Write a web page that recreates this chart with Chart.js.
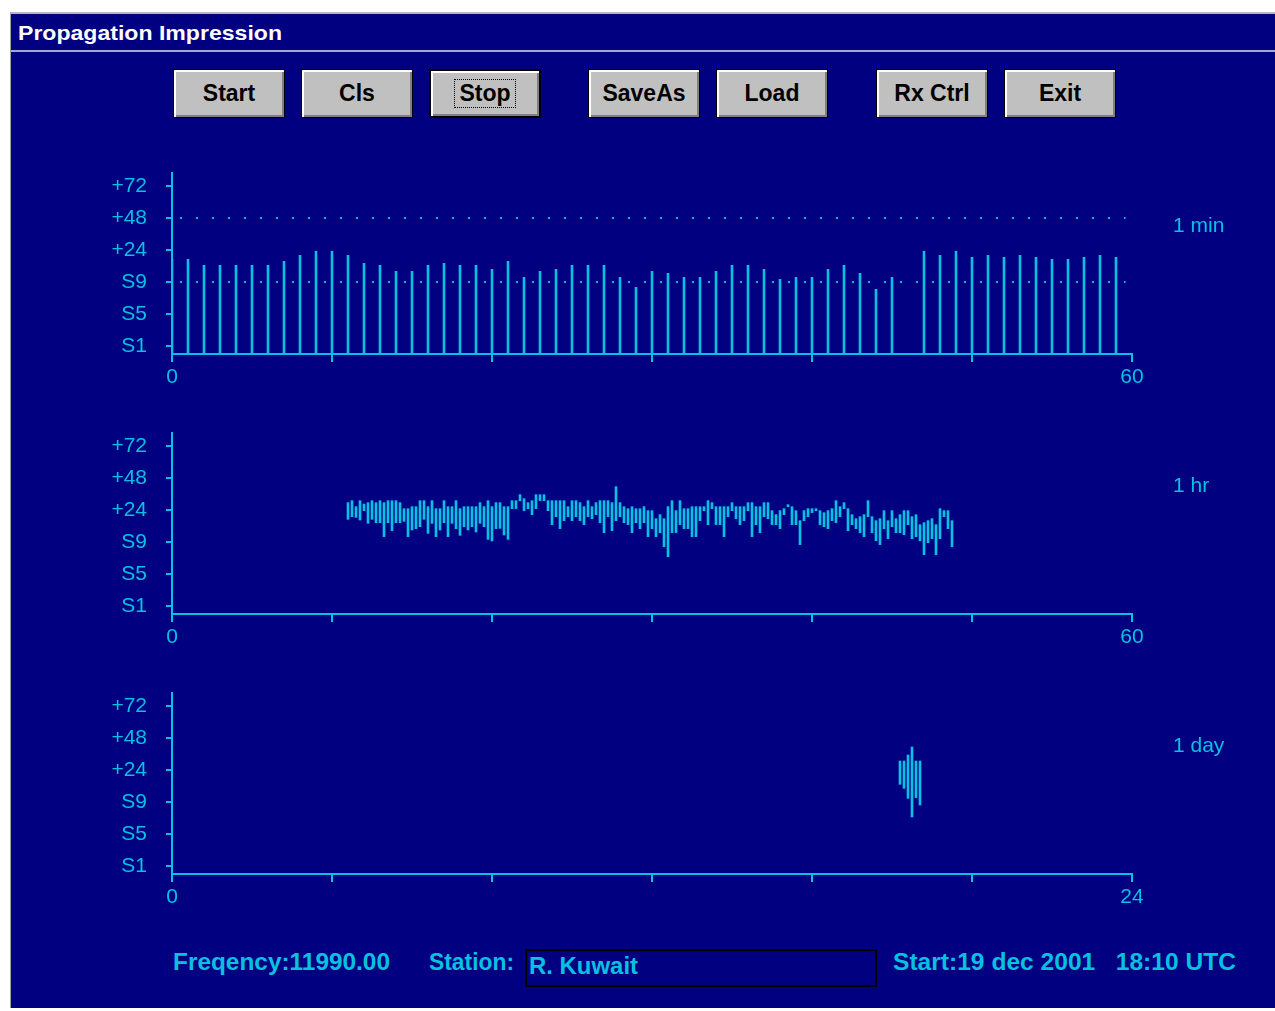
<!DOCTYPE html>
<html>
<head>
<meta charset="utf-8">
<title>Propagation Impression</title>
<script src="https://cdn.jsdelivr.net/npm/chart.js@4.4.1/dist/chart.umd.min.js"></script>
<style>
  html, body { margin: 0; padding: 0; background: #ffffff; }
  #page { position: relative; width: 1275px; height: 1011px; overflow: hidden; font-family: "Liberation Sans", Arial, sans-serif; }
  #frame { position: absolute; left: 10px; top: 12px; width: 1265px; height: 996px; box-sizing: border-box;
           background: #000080; border-left: 1px solid #a0a0a0; border-top: 2px solid #b8b8b8; }
  #titleRule { position: absolute; left: 11px; top: 50px; width: 1264px; height: 2px; background: #a4a4d4; }
  .txt { position: absolute; white-space: pre; transform-origin: 0 0; }
  #title { left: 18px; top: 22px; color: #ffffff; font-weight: bold; font-size: 21px; line-height: 21px; }
  .btn { position: absolute; top: 69px; width: 112px; height: 49px; box-sizing: border-box; background: #c0c0c0;
         border: 1px solid #000; box-shadow: inset 2px 2px 0 #ffffff, inset -2px -2px 0 #808080;
         display: flex; align-items: center; justify-content: center;
         font-weight: bold; font-size: 23px; color: #000; }
  .btn.default { border: 2px solid #000; }
  .btn .focus { border: 1px dotted #000; padding: 2px 4px; line-height: 23px; }
  canvas { position: absolute; left: 0; }
  .period { color: #08c0e0; font-size: 21px; line-height: 21px; left: 1173px; }
  .foot { color: #08c0e0; font-weight: bold; font-size: 24px; line-height: 24px; top: 950px; }
  #stationBox { position: absolute; left: 525px; top: 949px; width: 352px; height: 38px; box-sizing: border-box; border: 2px solid #000; }
</style>
</head>
<body>
<div id="page">
  <div id="frame"></div>
  <div id="titleRule"></div>
  <div class="txt" id="title" data-w="264">Propagation Impression</div>

  <div class="btn" style="left:173px">Start</div>
  <div class="btn" style="left:301px">Cls</div>
  <div class="btn default" style="left:429px"><span class="focus">Stop</span></div>
  <div class="btn" style="left:588px">SaveAs</div>
  <div class="btn" style="left:716px">Load</div>
  <div class="btn" style="left:876px">Rx Ctrl</div>
  <div class="btn" style="left:1004px">Exit</div>

  <canvas id="minuteChart" width="1275" height="240" style="top:160px"></canvas>
  <canvas id="hourChart" width="1275" height="240" style="top:420px"></canvas>
  <canvas id="dayChart" width="1275" height="240" style="top:680px"></canvas>

  <div class="txt period" style="top:214px">1 min</div>
  <div class="txt period" style="top:474px">1 hr</div>
  <div class="txt period" style="top:734px">1 day</div>

  <div class="txt foot" style="left:173px" data-w="217">Freqency:11990.00</div>
  <div class="txt foot" style="left:429px" data-w="85">Station:</div>
  <div id="stationBox"></div>
  <div class="txt foot" style="left:529px; top:954px" data-w="109">R. Kuwait</div>
  <div class="txt foot" style="left:893px" data-w="343">Start:19 dec 2001   18:10 UTC</div>
</div>

<script>
// Signal level axis, in dB relative to S9 (6 dB per S-unit).
const Y_TICK_VALUES = [-48, -24, 0, 24, 48, 72];
const Y_TICK_LABELS = ['S1', 'S5', 'S9', '+24', '+48', '+72'];

// Last minute: one reading per second (second 46 was not received).
const MINUTE_SECONDS = Array.from({ length: 60 }, (_, i) => i);
const MINUTE_DB = [
  17, 17, 12.5, 12.5, 12.5, 12.5, 12.5, 15.5, 20, 23,
  23, 20, 14, 12.5, 8, 8, 12.5, 14, 12.5, 12.5,
  9.5, 15.5, 3.5, 8, 9.5, 12.5, 12.5, 12.5, 3.5, -4,
  8, 6.5, 3.5, 3.5, 8, 12.5, 12.5, 9.5, 2, 3.5,
  3.5, 9.5, 12.5, 6.5, -5.5, 3.5, null, 23, 20, 23,
  18.5, 20, 18.5, 20, 18.5, 17, 17, 18.5, 20, 18.5
];
// Dotted guide levels on the minute panel (+48 and S9).
const MINUTE_GUIDES_DB = [48, 0];

// Last hour: min/max level of each 15 s block, starting at minute 11.
const HOUR_FIRST_MIN = 11;
const HOUR_BLOCK_MIN = 0.25;
const HOUR_HI = [
  29.5, 31, 26.5, 31, 28.5, 29.5, 31, 29.5, 31, 29.5,
  31, 31, 31, 29.5, 25, 25, 26.5, 26.5, 31, 31,
  26.5, 31, 25, 25, 31, 26.5, 26.5, 31, 25, 26.5,
  26.5, 26.5, 26.5, 29.5, 26.5, 31, 26.5, 29.5, 29.5, 26.5,
  26.5, 31, 31, 35.5, 32.5, 29.5, 31, 35.5, 35.5, 35.5,
  31, 31, 31, 31, 31, 26.5, 31, 31, 29.5, 26.5,
  31, 26.5, 29.5, 31, 31, 31, 29.5, 41.5, 29.5, 26.5,
  25, 26.5, 25, 25, 26.5, 23.5, 23.5, 17.5, 20.5, 17.5,
  26.5, 31, 23.5, 31, 25, 25, 26.5, 26.5, 26.5, 26.5,
  31, 29.5, 26.5, 26.5, 26.5, 26.5, 29.5, 26.5, 26.5, 26.5,
  29.5, 29.5, 26.5, 26.5, 29.5, 29.5, 23.5, 20.5, 23.5, 25,
  28, 26.5, 23.5, 16, 23.5, 25, 25, 25, 23.5, 22,
  23.5, 25, 31, 26.5, 29.5, 25, 20.5, 17.5, 19, 20.5,
  31, 19, 16, 17.5, 23.5, 16, 23.5, 17.5, 20.5, 23.5,
  23.5, 19, 20.5, 13, 14.5, 16, 17.5, 13, 25, 23.5,
  23.5, 16
];
const HOUR_LO = [
  17, 19, 18.5, 16.5, 23.5, 14, 17, 14.5, 14.5, 4,
  14.5, 8.5, 14.5, 14.5, 15.5, 4, 9, 10, 11.5, 17,
  6.5, 14, 4, 9, 14.5, 4, 14, 10, 5, 11.5,
  9, 11.5, 7.5, 14, 11.5, 2, 0.75, 10, 10.25, 5.25,
  2, 25, 25, 31, 23.5, 25, 20.5, 25, 31, 31,
  23.5, 13, 19, 10, 16, 19, 16, 19, 16, 13,
  19, 17.5, 20.5, 14.5, 7, 19, 8.5, 16, 19, 14.5,
  13, 7, 14.5, 10, 14.5, 4, 10, 4, 7, -3.5,
  -11, 7, 7, 13, 10, 10, 4, 4, 16, 23.5,
  13, 25, 13, 13, 4, 19, 23.5, 17.5, 13, 16,
  23.5, 4, 13, 7, 19, 17.5, 13, 13, 10, 20.5,
  26.5, 13, 13, -2, 16, 19, 22, 23.5, 13, 11.5,
  10, 16, 14.5, 19, 25, 8.5, 13, 10, 7, 4,
  19, 7, 1, -2, 10, 2.5, 11.5, 7, 7, 5.5,
  13, 2.5, 4, 1, -9.5, -0.5, 2.5, -9.5, 2.5, 19,
  10, -3.5
];

// Last day: min/max level per 6-minute block (hours UTC).
const DAY_HOURS = [18.2, 18.3, 18.4, 18.5, 18.6, 18.7];
const DAY_HI = [30.75, 30.75, 35.25, 41.25, 30.75, 30.75];
const DAY_LO = [13.25, 10.25, 2.75, -11.25, 3.25, -2.25];

const MINUTE_X_TICKS = [0, 10, 20, 30, 40, 50, 60];
const HOUR_X_TICKS = [0, 10, 20, 30, 40, 50, 60];
const DAY_X_TICKS = [0, 4, 8, 12, 16, 20, 24];

const CYAN = '#08c0e0';
const Y_MIN = -54;
const Y_MAX = 81.75;

Chart.defaults.font.family = '"Liberation Sans", Arial, sans-serif';
Chart.defaults.font.size = 21;

function levelBars(points) {
  return {
    type: 'bar',
    data: points,
    backgroundColor: CYAN,
    borderWidth: 0,
    barThickness: 2,
    grouped: false
  };
}

// Keep the plot box fixed: no extra room reserved for edge labels.
function noEdgePadding(s) {
  s.paddingTop = 0; s.paddingBottom = 0; s.paddingLeft = 0; s.paddingRight = 0;
}

function panel(id, xTicks, datasets) {
  const xMax = xTicks[xTicks.length - 1];
  return new Chart(document.getElementById(id), {
    type: 'bar',
    data: { datasets },
    options: {
      responsive: false,
      animation: false,
      devicePixelRatio: 1,
      layout: { padding: { left: 0, top: 13, right: 143, bottom: 0 } },
      plugins: { legend: { display: false }, tooltip: { enabled: false } },
      scales: {
        x: {
          type: 'linear', min: 0, max: xMax, offset: false,
          afterBuildTicks: s => { s.ticks = xTicks.map(v => ({ value: v })); },
          afterFit: s => { s.height = 46; noEdgePadding(s); },
          ticks: {
            color: CYAN, padding: 3, autoSkip: false, maxRotation: 0,
            callback: (v, i, t) => (i === 0 || i === t.length - 1) ? String(v) : ''
          },
          grid: { offset: false, drawOnChartArea: false, drawTicks: true, tickLength: 8, color: CYAN, lineWidth: 2 },
          border: { display: true, color: CYAN, width: 2 }
        },
        y: {
          type: 'linear', min: Y_MIN, max: Y_MAX,
          afterBuildTicks: s => { s.ticks = Y_TICK_VALUES.map(v => ({ value: v })); },
          afterFit: s => { s.width = 172; noEdgePadding(s); },
          ticks: { color: CYAN, padding: 19, callback: (v, i) => Y_TICK_LABELS[i] },
          grid: { drawOnChartArea: false, drawTicks: true, tickLength: 6, color: CYAN, lineWidth: 2 },
          border: { display: true, color: CYAN, width: 2 }
        }
      }
    }
  });
}

// Minute panel: spikes from the axis floor, plus dotted guide levels.
const minuteSpikes = levelBars(MINUTE_SECONDS.map((s, i) => ({
  x: s, y: MINUTE_DB[i] === null ? null : [Y_MIN, MINUTE_DB[i]]
})));
const guideLines = MINUTE_GUIDES_DB.map(level => ({
  type: 'line',
  data: [{ x: MINUTE_SECONDS[0] + 0.5, y: level }, { x: MINUTE_SECONDS[59] + 0.6, y: level }],
  borderColor: CYAN, borderWidth: 2, borderDash: [2, 14],
  pointRadius: 0, fill: false
}));
panel('minuteChart', MINUTE_X_TICKS, [minuteSpikes, ...guideLines]);

// Hour panel: min/max range bars.
panel('hourChart', HOUR_X_TICKS, [levelBars(HOUR_HI.map((hi, k) => ({
  x: HOUR_FIRST_MIN + k * HOUR_BLOCK_MIN, y: [HOUR_LO[k], hi]
})))]);

// Day panel: min/max range bars.
panel('dayChart', DAY_X_TICKS, [levelBars(DAY_HOURS.map((h, k) => ({
  x: h, y: [DAY_LO[k], DAY_HI[k]]
})))]);

// Stretch window texts to their field widths.
document.querySelectorAll('[data-w]').forEach(el => {
  const w = el.getBoundingClientRect().width;
  if (w > 0) el.style.transform = 'scaleX(' + (Number(el.dataset.w) / w) + ')';
});
</script>
</body>
</html>
